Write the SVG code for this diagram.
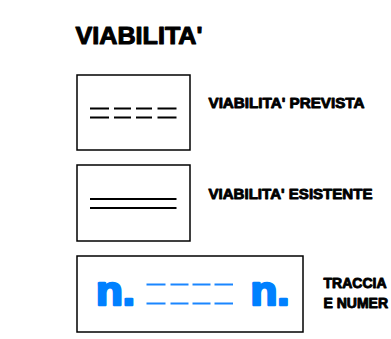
<svg xmlns="http://www.w3.org/2000/svg" width="391" height="339" viewBox="0 0 391 339">
<style>
.box{fill:#fff;stroke:#000;stroke-width:1.5}
.lbl{font-family:"Liberation Sans",Arial,sans-serif;font-weight:bold;fill:#000;stroke:#000;stroke-width:0.9;stroke-linejoin:round}
.bl{stroke:#000;stroke-width:2;fill:none}
.blue{stroke:#1a86ff;stroke-width:2;fill:none}
.n{font-family:"Liberation Sans",Arial,sans-serif;font-weight:bold;font-size:40px;fill:#0080ff;stroke:#0080ff;stroke-width:2.5;stroke-linejoin:round}
</style>
<rect width="391" height="339" fill="#fff"/>
<text class="lbl" x="75.5" y="43.5" font-size="23" textLength="127" lengthAdjust="spacingAndGlyphs" style="stroke-width:1">VIABILITA'</text>
<g id="prevista">
<rect class="box" x="77" y="75" width="113" height="75"/>
<path class="bl" d="M90 108.5h19M114 108.5h17M136 108.5h16M157.5 108.5h19M90 117.5h19M114 117.5h17M136 117.5h16M157.5 117.5h19"/>
<text class="lbl" x="208.5" y="108" font-size="15" textLength="156" lengthAdjust="spacingAndGlyphs">VIABILITA' PREVISTA</text>
</g>
<g id="esistente">
<rect class="box" x="77" y="165" width="113" height="76"/>
<path class="bl" d="M90 199h86.5M90 208h86.5"/>
<text class="lbl" x="208.5" y="198.5" font-size="15" textLength="164" lengthAdjust="spacingAndGlyphs">VIABILITA' ESISTENTE</text>
</g>
<g id="tracciato">
<rect class="box" x="77" y="256" width="226" height="76"/>
<text class="n" x="96" y="304.5" textLength="39" lengthAdjust="spacingAndGlyphs">n.</text>
<path class="blue" d="M146.5 284.5h19M170.5 284.5h18M192.5 284.5h18M214.5 284.5h18.5M146.5 303.5h19M170.5 303.5h18M192.5 303.5h18M214.5 303.5h18.5"/>
<text class="n" x="250.5" y="304.5" textLength="39" lengthAdjust="spacingAndGlyphs">n.</text>
<text class="lbl" x="323.5" y="288" font-size="14">TRACCIA</text>
<text class="lbl" x="323.5" y="308" font-size="14">E NUMER</text>
</g>
</svg>
